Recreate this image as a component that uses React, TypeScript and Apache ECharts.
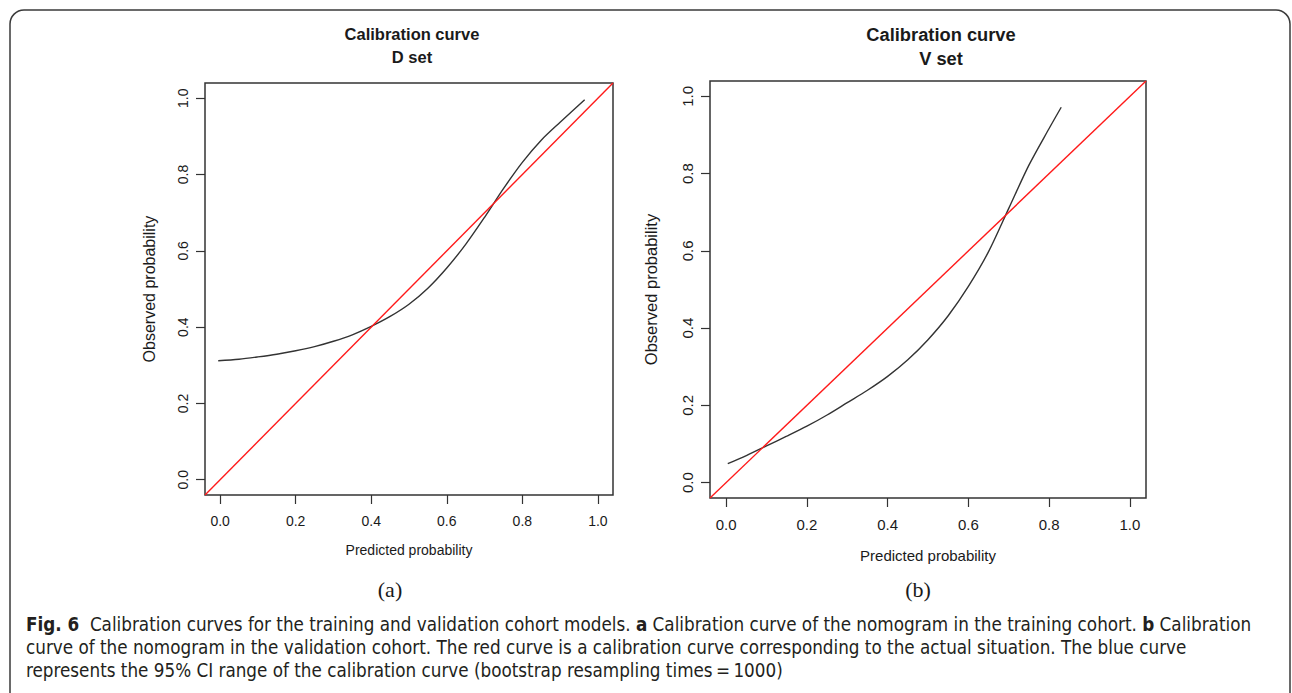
import React, { useEffect, useRef } from "react";
import * as echarts from "echarts";

const tickValues = [0, 0.2, 0.4, 0.6, 0.8, 1.0];
const diagX = [-0.04, 1.04];
const diagY = [-0.04, 1.04];

// D set (training) calibration curve
const dSetX = [-0.005, 0.05, 0.1, 0.15, 0.2, 0.25, 0.3, 0.35, 0.4, 0.45, 0.5, 0.55, 0.6, 0.65, 0.7, 0.75, 0.8, 0.85, 0.9, 0.965];
const dSetY = [0.312, 0.316, 0.322, 0.329, 0.338, 0.349, 0.363, 0.38, 0.402, 0.428, 0.46, 0.502, 0.555, 0.617, 0.688, 0.763, 0.832, 0.89, 0.937, 0.996];

// V set (validation) calibration curve
const vSetX = [0.004, 0.05, 0.1, 0.15, 0.2, 0.25, 0.3, 0.35, 0.4, 0.45, 0.5, 0.55, 0.6, 0.65, 0.7, 0.75, 0.8, 0.83];
const vSetY = [0.049, 0.07, 0.095, 0.12, 0.146, 0.175, 0.207, 0.239, 0.275, 0.318, 0.37, 0.432, 0.508, 0.598, 0.71, 0.822, 0.917, 0.972];

const titles = ["Calibration curve\nD set", "Calibration curve\nV set"];
const xName = "Predicted probability";
const yName = "Observed probability";
const panelLabels = ["(a)", "(b)"];
const captionLines = [
  "{b|Fig. 6}  Calibration curves for the training and validation cohort models. {b|a} Calibration curve of the nomogram in the training cohort. {b|b} Calibration",
  "curve of the nomogram in the validation cohort. The red curve is a calibration curve corresponding to the actual situation. The blue curve",
  "represents the 95% CI range of the calibration curve (bootstrap resampling times\u2009=\u20091000)",
];

const FONT = "'Liberation Sans', Arial, Helvetica, sans-serif";
const CAPFONT = "'DejaVu Sans Condensed', 'Open Sans', sans-serif";
const TXT = "#1a1a1a";

function zip(xs: number[], ys: number[]) {
  return xs.map((x, i) => [x, ys[i]]);
}

function makeX(gridIndex: number, fs: number, nameGap: number) {
  return {
    type: "value",
    gridIndex,
    min: -0.04,
    max: 1.04,
    name: xName,
    nameLocation: "middle",
    nameGap,
    nameTextStyle: { fontFamily: FONT, fontSize: fs, color: TXT },
    axisLine: { show: false, onZero: false },
    axisTick: { show: true, inside: false, length: 9, customValues: tickValues, lineStyle: { color: "#333", width: 1.2 } },
    axisLabel: {
      show: true,
      customValues: tickValues,
      margin: 19,
      fontFamily: FONT,
      fontSize: fs,
      color: TXT,
      formatter: (v: number) => v.toFixed(1),
    },
    splitLine: { show: false },
  };
}

function makeY(gridIndex: number, fs: number, nameFs: number, nameGap: number) {
  return {
    type: "value",
    gridIndex,
    min: -0.04,
    max: 1.04,
    name: yName,
    nameLocation: "middle",
    nameGap,
    nameTextStyle: { fontFamily: FONT, fontSize: nameFs, color: TXT },
    axisLine: { show: false, onZero: false },
    axisTick: { show: true, inside: false, length: 9, customValues: tickValues, lineStyle: { color: "#333", width: 1.2 } },
    axisLabel: {
      show: true,
      rotate: 90,
      customValues: tickValues,
      margin: 15,
      fontFamily: FONT,
      fontSize: fs,
      color: TXT,
      formatter: (v: number) => v.toFixed(1),
    },
    splitLine: { show: false },
  };
}

export default function App() {
  const ref = useRef<HTMLDivElement>(null);
  useEffect(() => {
    if (!ref.current) return;
    const chart = echarts.init(ref.current, undefined, { renderer: "svg" });
    const option: any = {
      animation: false,
      backgroundColor: "#ffffff",
      title: [
        {
          text: titles[0],
          left: 407,
          top: 17,
          textAlign: "center",
          textStyle: { fontFamily: FONT, fontSize: 16.5, fontWeight: "bold", color: TXT, lineHeight: 23 },
        },
        {
          text: titles[1],
          left: 936,
          top: 17,
          textAlign: "center",
          textStyle: { fontFamily: FONT, fontSize: 18.3, fontWeight: "bold", color: TXT, lineHeight: 24 },
        },
      ],
      grid: [
        { left: 205, top: 83, width: 408, height: 412, show: true, borderColor: "#333", borderWidth: 1.5, backgroundColor: "transparent" },
        { left: 710, top: 81, width: 436, height: 417, show: true, borderColor: "#333", borderWidth: 1.5, backgroundColor: "transparent" },
      ],
      xAxis: [makeX(0, 14, 48), makeX(1, 15, 50)],
      yAxis: [makeY(0, 14, 16, 48), makeY(1, 15, 16.5, 51)],
      series: [
        {
          type: "line",
          xAxisIndex: 0,
          yAxisIndex: 0,
          data: zip(diagX, diagY),
          showSymbol: false,
          lineStyle: { color: "#ff1a1a", width: 1.4 },
          z: 3,
        },
        {
          type: "line",
          xAxisIndex: 0,
          yAxisIndex: 0,
          data: zip(dSetX, dSetY),
          smooth: 0.3,
          showSymbol: false,
          lineStyle: { color: "#333333", width: 1.4 },
          z: 2,
        },
        {
          type: "line",
          xAxisIndex: 1,
          yAxisIndex: 1,
          data: zip(diagX, diagY),
          showSymbol: false,
          lineStyle: { color: "#ff1a1a", width: 1.4 },
          z: 3,
        },
        {
          type: "line",
          xAxisIndex: 1,
          yAxisIndex: 1,
          data: zip(vSetX, vSetY),
          smooth: 0.3,
          showSymbol: false,
          lineStyle: { color: "#333333", width: 1.4 },
          z: 2,
        },
      ],
      graphic: [
        {
          type: "rect",
          shape: { x: 10, y: 10, width: 1280, height: 720, r: 14 },
          style: { fill: "none", stroke: "#3a3a3a", lineWidth: 1.5 },
          silent: true,
        },
        {
          type: "text",
          x: 390,
          y: 589,
          style: { text: panelLabels[0], font: "22px 'Liberation Serif', 'Times New Roman', serif", fill: TXT, textAlign: "center", textVerticalAlign: "middle" },
        },
        {
          type: "text",
          x: 918,
          y: 589,
          style: { text: panelLabels[1], font: "22px 'Liberation Serif', 'Times New Roman', serif", fill: TXT, textAlign: "center", textVerticalAlign: "middle" },
        },
        ...captionLines.map((t, i) => ({
          type: "text",
          x: 26,
          y: 624 + i * 23,
          style: {
            text: t,
            fontFamily: CAPFONT,
            fontSize: 18.7,
            fill: "#231f20",
            textAlign: "left",
            textVerticalAlign: "middle",
            rich: {
              b: { fontFamily: CAPFONT, fontSize: 18.7, fontWeight: "bold", fill: "#231f20" },
            },
          },
        })),
      ],
    };
    chart.setOption(option);
    return () => chart.dispose();
  }, []);
  return <div ref={ref} style={{ position: "absolute", left: 0, top: 0, width: 1292, height: 693 }} />;
}
